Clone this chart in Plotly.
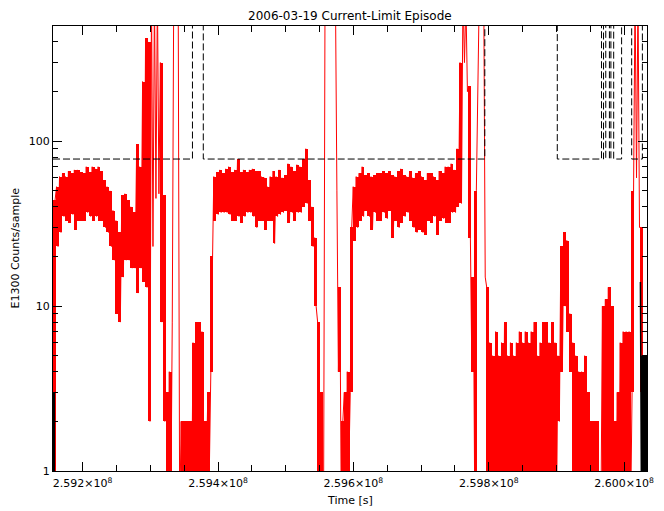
import plotly.graph_objects as go

# ---------------- data ----------------
# Red curve: E1300 counts/sample, two samples (a then b) per time bin
T_START = 2.5915617e8      # start time of first bin [s]
BIN_DT = 4382.7            # bin width [s]

counts_a = [0, 53, 61, 64, 61, 66, 64, 67, 67, 65, 64, 70, 65, 70, 68, 70, 66, 58, 53, 50,
            38, 33, 28, 47, 48, 44, 40, 37, 96, 70, 230, 420, 400, 800, 800, 800, 300, 47, 3, 4,
            8, 800, 800, 2, 2, 2, 2, 6, 8, 8, 7, 2, 3, 4, 61, 65, 67, 64, 68, 70,
            65, 67, 78, 65, 67, 65, 67, 68, 66, 66, 61, 60, 53, 61, 66, 61, 67, 60, 62, 73,
            70, 66, 72, 70, 78, 90, 58, 40, 26, 8, 3, 0, 800, 800, 800, 800, 4, 0, 3, 4,
            3, 53, 61, 64, 70, 62, 64, 61, 62, 64, 64, 66, 64, 66, 62, 61, 66, 68, 62, 61,
            66, 60, 64, 66, 61, 58, 64, 64, 61, 58, 66, 64, 70, 70, 73, 67, 90, 300, 800, 700,
            216, 4, 0, 300, 800, 800, 13, 6, 5, 7, 5, 6, 8, 5, 6, 5, 6, 7, 6, 7,
            6, 7, 8, 5, 6, 8, 8, 6, 8, 6, 5, 23, 28, 25, 9, 6, 5, 4, 4, 5,
            3, 2, 2, 2, 0, 10, 11, 13, 10, 2, 3, 6, 7, 7, 7, 3, 800, 800, 30, 3]

counts_b = [44, 23, 28, 35, 33, 32, 36, 29, 33, 33, 33, 37, 35, 33, 35, 33, 33, 30, 28, 23,
            19, 9, 8, 15, 19, 19, 17, 17, 12, 17, 14, 13, 2, 23, 45, 48, 8, 2, 0, 0,
            800, 800, 0, 0, 0, 0, 0, 0, 1, 1, 1, 1, 1, 20, 33, 36, 37, 37, 37, 36,
            33, 33, 35, 32, 35, 37, 37, 35, 30, 33, 33, 29, 33, 33, 24, 35, 36, 37, 38, 32,
            37, 33, 37, 37, 40, 42, 33, 23, 10, 1, 1, 800, 800, 800, 800, 50, 13, 2, 0, 1,
            30, 25, 30, 33, 35, 38, 35, 29, 37, 33, 33, 37, 34, 38, 26, 33, 30, 32, 35, 37,
            33, 30, 28, 29, 28, 27, 33, 32, 35, 27, 33, 34, 32, 32, 37, 37, 40, 42, 300, 200,
            26, 15, 50, 800, 800, 15, 0, 0, 0, 0, 0, 0, 0, 0, 0, 0, 0, 0, 0, 0,
            0, 0, 0, 0, 0, 0, 0, 0, 0, 0, 2, 4, 10, 7, 4, 0, 0, 0, 0, 0,
            0, 0, 0, 0, 0, 0, 0, 0, 0, 0, 0, 0, 0, 0, 0, 50, 60, 30, 3, 0]

# Black solid curve (second data set, only visible at the two edges)
black_left_times = [2.5915617e8, 2.5915630e8]
black_left_vals = [0, 3]
black_right_times = [2.6002400e8, 2.6002430e8, 2.6002500e8, 2.6002570e8, 2.6002640e8,
                     2.6002710e8, 2.6002780e8, 2.6002850e8, 2.6002920e8, 2.6002990e8,
                     2.6003060e8, 2.6003130e8, 2.6003200e8, 2.6003270e8, 2.6003340e8]
black_right_vals = [14, 2, 5, 0, 5, 0, 5, 0, 5, 0, 5, 0, 5, 0, 5]

# Dashed limit curve (step function)
limit_times = [2.5915617e8, 2.593622e8, 2.593782e8, 2.597941e8, 2.599012e8, 2.599665e8,
               2.599695e8, 2.599728e8, 2.599782e8, 2.599804e8, 2.599845e8, 2.599962e8,
               2.600111e8, 2.600269e8, 2.6003373e8]
limit_vals = [78, 1000, 78, 1000, 78, 1000, 78, 1000, 78, 1000, 78, 1000, 78, 1000, 1000]

# axis
X_RANGE = [2.5915617e8, 2.6003373e8]
Y_LOG_RANGE = [0, 2.69897]
x_tick_vals = [2.592e8, 2.594e8, 2.596e8, 2.598e8, 2.600e8]
x_tick_text = ["2.592×10<sup>8</sup>", "2.594×10<sup>8</sup>", "2.596×10<sup>8</sup>",
               "2.598×10<sup>8</sup>", "2.600×10<sup>8</sup>"]
x_minor_vals = [2.5915e8 + i * 5e4 for i in range(18)]
y_tick_vals = [1, 10, 100]
y_tick_text = ["1", "10", "100"]
y_minor_vals = [2, 3, 4, 5, 6, 7, 8, 9, 20, 30, 40, 50, 60, 70, 80, 90, 200, 300, 400, 500]

TITLE = "2006-03-19 Current-Limit Episode"
X_TITLE = "Time [s]"
Y_TITLE = "E1300 Counts/sample"

# ---------------- build figure ----------------
FLOOR = 0.5    # zero counts are drawn below the log range (clipped at the axis)
TOP = 10 ** Y_LOG_RANGE[1]


def vis(v):
    return v if v > 0 else FLOOR


red_t, red_y = [], []
bar_x, bar_base, bar_h = [], [], []
for k, (a, b) in enumerate(zip(counts_a, counts_b)):
    t0 = T_START + k * BIN_DT
    red_t += [t0 + 0.2 * BIN_DT, t0 + 0.7 * BIN_DT]
    red_y += [vis(a), vis(b)]
    lo, hi = vis(min(a, b)), vis(max(a, b))
    if hi < TOP:   # on-scale bins: fill the sample range of the bin
        bar_x.append(t0 + 0.5 * BIN_DT)
        bar_base.append(lo)
        bar_h.append(hi - lo)

fig = go.Figure()
fig.add_trace(go.Bar(x=bar_x, y=bar_h, base=bar_base, width=BIN_DT,
                     marker=dict(color="#ff0000", line=dict(width=0)), hoverinfo="skip"))
fig.add_trace(go.Scatter(x=red_t, y=red_y, mode="lines",
                         line=dict(color="#ff0000", width=1), hoverinfo="skip"))
fig.add_trace(go.Scatter(x=black_left_times, y=[vis(v) for v in black_left_vals],
                         mode="lines", line=dict(color="black", width=4), hoverinfo="skip"))
fig.add_trace(go.Scatter(x=black_right_times, y=[vis(v) for v in black_right_vals],
                         mode="lines", line=dict(color="black", width=1.5), hoverinfo="skip"))
fig.add_trace(go.Scatter(x=limit_times, y=limit_vals, mode="lines",
                         line=dict(color="black", width=1, dash="7px,3px", shape="hv"),
                         hoverinfo="skip"))

FONT = "DejaVu Sans"
fig.update_layout(
    width=664, height=511,
    margin=dict(l=53, r=10, t=26, b=40),
    paper_bgcolor="white", plot_bgcolor="white",
    showlegend=False, barmode="overlay", bargap=0,
    font=dict(family=FONT, size=11, color="black"),
    xaxis=dict(range=X_RANGE, showgrid=False, zeroline=False,
               showline=True, linecolor="black", linewidth=1, mirror="ticks",
               ticks="inside", ticklen=9, tickcolor="black", tickwidth=1,
               tickmode="array", tickvals=x_tick_vals, ticktext=x_tick_text,
               tickfont=dict(family=FONT, size=11), ticklabelstandoff=2,
               minor=dict(ticks="inside", ticklen=6, tickcolor="black",
                          tickmode="array", tickvals=x_minor_vals, showgrid=False)),
    yaxis=dict(type="log", range=Y_LOG_RANGE, showgrid=False, zeroline=False,
               showline=True, linecolor="black", linewidth=1, mirror="ticks",
               ticks="inside", ticklen=9, tickcolor="black", tickwidth=1,
               tickmode="array", tickvals=y_tick_vals, ticktext=y_tick_text,
               tickfont=dict(family=FONT, size=11),
               minor=dict(ticks="inside", ticklen=5, tickcolor="black",
                          tickmode="array", tickvals=y_minor_vals, showgrid=False)),
    annotations=[
        dict(text=TITLE, xref="paper", yref="paper", x=0.5, y=1, yshift=1,
             xanchor="center", yanchor="bottom", showarrow=False,
             font=dict(family=FONT, size=12)),
        dict(text=X_TITLE, xref="paper", yref="paper", x=0.5, y=0, yshift=-21,
             xanchor="center", yanchor="top", showarrow=False,
             font=dict(family=FONT, size=11)),
        dict(text=Y_TITLE, xref="paper", yref="paper", x=0, y=0.5, xshift=-38,
             xanchor="center", yanchor="middle", textangle=-90, showarrow=False,
             font=dict(family=FONT, size=11)),
    ],
)

fig.write_html("out.html")
